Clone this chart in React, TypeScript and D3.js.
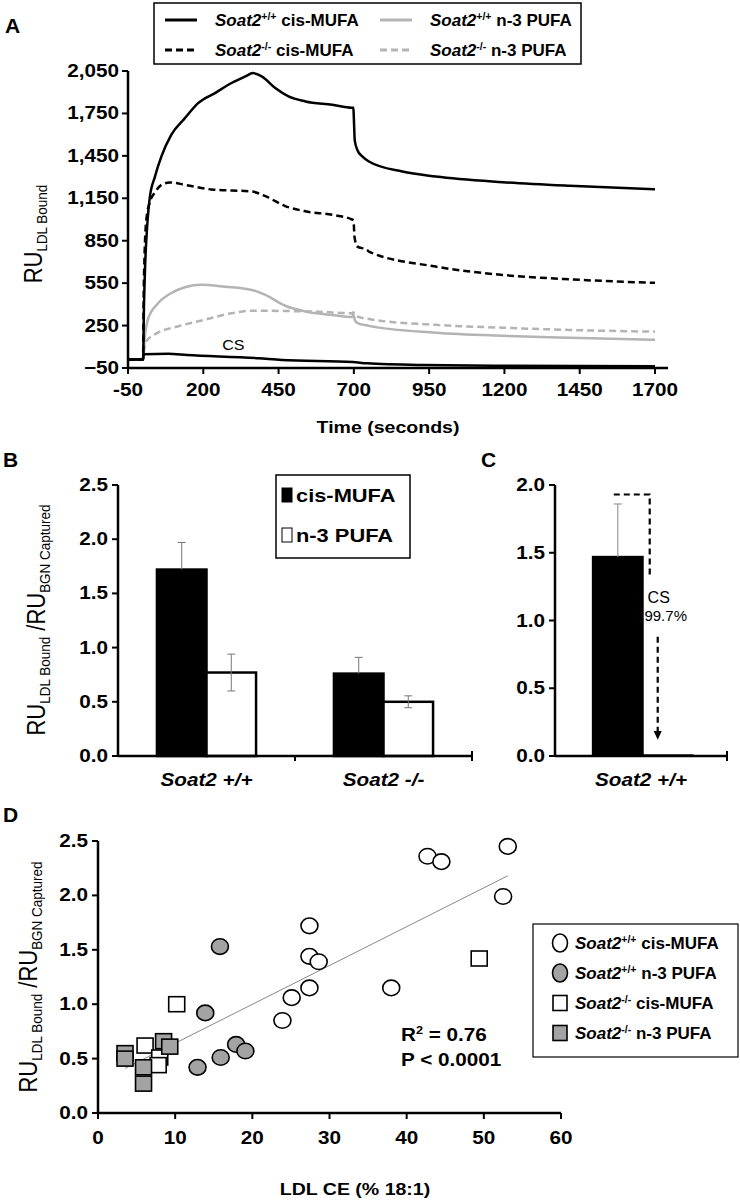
import React from 'react'
import * as d3 from 'd3'

const FONT = '"Liberation Sans", Arial, Helvetica, sans-serif'
const GREY_LINE = '#b4b4b4'
const GREY_FILL = '#a3a3a3'
const SX = 1.15 // the source figure's lettering is a little wider than Arial

// ---- Panel A: sensorgram (time s, RU)
const aTicksY = [-50, 250, 550, 850, 1150, 1450, 1750, 2050]
const aTicksX = [-50, 200, 450, 700, 950, 1200, 1450, 1700]

const wtMufa = [
  [-50, 10], [0, 10], [3, 380], [7, 680], [13, 930], [22, 1150], [39, 1300], [61, 1446], [94, 1600],
  [139, 1717], [183, 1823], [239, 1894], [294, 1965], [340, 2012], [365, 2035], [394, 2012],
  [439, 1929], [483, 1870], [539, 1835], [628, 1811], [694, 1790], [698, 1792], [703, 1560],
  [712, 1490], [728, 1446], [750, 1410], [861, 1339], [972, 1304], [1194, 1264], [1417, 1238], [1700, 1214],
]
const koMufa = [
  [-50, 10], [0, 10], [2, 450], [5, 750], [11, 1000], [22, 1120], [39, 1190], [61, 1245], [89, 1262],
  [139, 1245], [228, 1212], [361, 1198], [406, 1165], [472, 1095], [539, 1058], [628, 1033], [694, 1000],
  [699, 990], [702, 880], [711, 810], [744, 785], [750, 773], [972, 667], [1194, 608], [1417, 577], [1700, 552],
]
const wtPufa = [
  [-50, 10], [0, 10], [5, 150], [17, 300], [50, 408], [94, 480], [139, 521], [194, 538], [272, 525],
  [361, 502], [406, 467], [472, 390], [539, 350], [628, 325], [694, 310], [698, 328], [703, 290],
  [712, 268], [750, 248], [972, 200], [1194, 178], [1417, 164], [1700, 150],
]
const koPufa = [
  [-50, 10], [0, 10], [5, 100], [11, 140], [50, 200], [117, 245], [206, 292], [294, 337], [361, 355],
  [472, 353], [583, 348], [694, 337], [699, 345], [703, 322], [750, 296], [972, 255], [1194, 235],
  [1417, 219], [1700, 207],
]
const csLine = [
  [-50, 10], [0, 10], [2, 48], [83, 50], [146, 42], [383, 19], [460, 7], [697, -8], [743, -17],
  [933, -29], [1200, -34], [1700, -37],
]

// ---- Panel B: bars
const bGroups = ['Soat2 +/+', 'Soat2 -/-']
const bSeries = ['cis-MUFA', 'n-3 PUFA']
const bMeans = [[1.72, 0.77], [0.76, 0.50]]
const bErr = [[0.25, 0.17], [0.15, 0.055]]
const bTicks = [0, 0.5, 1.0, 1.5, 2.0, 2.5]

// ---- Panel C: bars
const cGroups = ['Soat2 +/+']
const cSeries = ['LDL', 'CS']
const cMeans = [1.47, 0.005]
const cErr = [0.39, 0]
const cTicks = [0, 0.5, 1.0, 1.5, 2.0]

// ---- Panel D: scatter (LDL CE % 18:1, RU ratio)
const dWtMufa = [
  [27.4, 1.72], [27.4, 1.44], [28.6, 1.39], [27.4, 1.15], [25.1, 1.06], [23.9, 0.85], [38.0, 1.15],
  [52.5, 1.99], [42.7, 2.36], [44.5, 2.31], [53.1, 2.45],
]
const dWtPufa = [[15.8, 1.53], [13.9, 0.92], [17.9, 0.63], [19.1, 0.57], [15.9, 0.51], [12.9, 0.42]]
const dKoMufa = [[49.4, 1.42], [10.2, 1.0], [6.1, 0.62], [8.0, 0.51], [7.8, 0.44]]
const dKoPufa = [[3.5, 0.55], [3.5, 0.50], [5.9, 0.42], [5.9, 0.27], [8.5, 0.66], [9.3, 0.61]]
const dFit = [[3.5, 0.41], [53.1, 2.18]]
const dTicksX = [0, 10, 20, 30, 40, 50, 60]
const dTicksY = [0, 0.5, 1.0, 1.5, 2.0, 2.5]

const fmt1 = d3.format('.1f')

function Soat({ sup, rest, size }: { sup: string; rest: string; size: number }) {
  return (
    <>
      <tspan fontStyle="italic">Soat2</tspan>
      <tspan fontSize={size * 0.62} dy={-size * 0.38}>{sup}</tspan>
      <tspan dy={size * 0.38}>{rest}</tspan>
    </>
  )
}

// widened text
function T({ x, y, anchor = 'start', size = 18, bold = true, sx = SX, children, rot = false }: any) {
  return (
    <text transform={`translate(${x},${y}) scale(${sx},1)${rot ? ' rotate(-90)' : ''}`} textAnchor={anchor}
      fontSize={size} fontWeight={bold ? 'bold' : 'normal'}>
      {children}
    </text>
  )
}

function RuTitle({ x, y, full }: { x: number; y: number; full: boolean }) {
  return (
    <T x={x} y={y} anchor="middle" size={22} bold={false} rot>
      <tspan>RU</tspan><tspan fontSize={13.5} dy={4}>LDL Bound</tspan>
      {full && <><tspan dy={-4}> /RU</tspan><tspan fontSize={13.5} dy={4}>BGN Captured</tspan></>}
    </T>
  )
}

export default function App() {
  // A
  const xA = d3.scaleLinear().domain([-50, 1700]).range([128, 655])
  const yA = d3.scaleLinear().domain([-50, 2050]).range([368, 71])
  const lineA = d3.line<number[]>().x(d => xA(d[0])).y(d => yA(d[1])).curve(d3.curveMonotoneX)
  const aSeries = [
    { data: koPufa, stroke: GREY_LINE, dash: '7,4' },
    { data: wtPufa, stroke: GREY_LINE, dash: null },
    { data: csLine, stroke: '#000', dash: null },
    { data: koMufa, stroke: '#000', dash: '7,4' },
    { data: wtMufa, stroke: '#000', dash: null },
  ]

  // B
  const yB = d3.scaleLinear().domain([0, 2.5]).range([756, 485])
  const xB = d3.scaleBand().domain(bGroups).range([118, 472])
  const bw = xB.bandwidth()
  const xB1 = d3.scaleBand().domain(bSeries).range([bw * 0.22, bw * 0.78])

  // C
  const yC = d3.scaleLinear().domain([0, 2.0]).range([756, 485])
  const xC = d3.scaleBand().domain(cGroups).range([555, 727])
  const cw = xC.bandwidth()
  const xC1 = d3.scaleBand().domain(cSeries).range([cw * 0.22, cw * 0.8])

  // D
  const xD = d3.scaleLinear().domain([0, 60]).range([98, 561])
  const yD = d3.scaleLinear().domain([0, 2.5]).range([1113, 841])

  const cBw = xC1.bandwidth()
  const cBarMid = xC1('LDL')! + xC('Soat2 +/+')! + cBw / 2
  const cRight = xC1('CS')! + xC('Soat2 +/+')!
  const bracketX = cRight + 7
  const arrowX = cRight + 15

  return (
    <svg width={740} height={1201} style={{ position: 'absolute', left: 0, top: 0, background: '#fff' }}
      fontFamily={FONT}>
      <rect width={740} height={1201} fill="#fff" />

      {/* ---------------- Panel A ---------------- */}
      <text x={5} y={33} fontSize={21} fontWeight="bold">A</text>
      <g>
        <rect x={154} y={3} width={427} height={61} fill="#fff" stroke="#000" strokeWidth={1.5} />
        {[
          { x: 165, y: 20, stroke: '#000', dash: null, sup: '+/+', rest: ' cis-MUFA' },
          { x: 165, y: 50, stroke: '#000', dash: '7,4', sup: '-/-', rest: '  cis-MUFA' },
          { x: 380, y: 20, stroke: GREY_LINE, dash: null, sup: '+/+', rest: ' n-3 PUFA' },
          { x: 380, y: 50, stroke: GREY_LINE, dash: '7,4', sup: '-/-', rest: ' n-3 PUFA' },
        ].map((l, i) => (
          <g key={i}>
            <line x1={l.x} x2={l.x + 32} y1={l.y} y2={l.y} stroke={l.stroke} strokeWidth={3}
              strokeDasharray={l.dash ?? undefined} />
            <text x={l.x + 50} y={l.y + 6} fontSize={17} fontWeight="bold">
              <Soat sup={l.sup} rest={l.rest} size={17} />
            </text>
          </g>
        ))}
      </g>
      {aSeries.map((s, i) => (
        <path key={i} d={lineA(s.data) ?? ''} fill="none" stroke={s.stroke} strokeWidth={2.5}
          strokeDasharray={s.dash ?? undefined} />
      ))}
      <T x={xA(300)} y={350} anchor="middle" size={14} bold={false}>CS</T>
      {/* axes */}
      <line x1={xA(-50)} x2={xA(-50)} y1={yA(2050)} y2={yA(-50)} stroke="#000" strokeWidth={2.5} />
      <line x1={xA(-50)} x2={668} y1={yA(-50)} y2={yA(-50)} stroke="#000" strokeWidth={2.5} />
      {aTicksY.map(t => (
        <g key={t}>
          <line x1={xA(-50) - 6} x2={xA(-50)} y1={yA(t)} y2={yA(t)} stroke="#000" strokeWidth={2} />
          <T x={xA(-50) - 9} y={yA(t) + 6} anchor="end">{d3.format(',')(t)}</T>
        </g>
      ))}
      {aTicksX.map(t => (
        <g key={t}>
          <line x1={xA(t)} x2={xA(t)} y1={yA(-50)} y2={yA(-50) + 6} stroke="#000" strokeWidth={2} />
          <T x={xA(t)} y={yA(-50) + 28} anchor="middle">{t}</T>
        </g>
      ))}
      <T x={388} y={433} anchor="middle" size={17}>Time (seconds)</T>
      <RuTitle x={42} y={234} full={false} />

      {/* ---------------- Panel B ---------------- */}
      <text x={3} y={467} fontSize={21} fontWeight="bold">B</text>
      <RuTitle x={45} y={620} full />
      {bGroups.map((g, gi) => (
        <g key={g} transform={`translate(${xB(g)},0)`}>
          {bSeries.map((s, si) => {
            const x = xB1(s)!
            const w = xB1.bandwidth()
            const v = bMeans[gi][si]
            const e = bErr[gi][si]
            const cx = x + w / 2
            const lo = si === 0 ? v : v - e
            return (
              <g key={s}>
                <rect x={x} y={yB(v)} width={w} height={yB(0) - yB(v)} fill={si === 0 ? '#000' : '#fff'}
                  stroke="#000" strokeWidth={2.5} />
                <line x1={cx} x2={cx} y1={yB(v + e)} y2={yB(lo)} stroke="#777" strokeWidth={1} />
                <line x1={cx - 4} x2={cx + 4} y1={yB(v + e)} y2={yB(v + e)} stroke="#777" strokeWidth={1} />
                {si === 1 && <line x1={cx - 4} x2={cx + 4} y1={yB(lo)} y2={yB(lo)} stroke="#777" strokeWidth={1} />}
              </g>
            )
          })}
          <T x={bw / 2} y={786} anchor="middle"><tspan fontStyle="italic">{g}</tspan></T>
        </g>
      ))}
      <line x1={118} x2={118} y1={yB(2.5)} y2={yB(0)} stroke="#000" strokeWidth={2.5} />
      <line x1={118} x2={472} y1={yB(0)} y2={yB(0)} stroke="#000" strokeWidth={2.5} />
      {xB.domain().slice(1).map(g => (
        <line key={g} x1={xB(g)} x2={xB(g)} y1={yB(0)} y2={yB(0) + 5} stroke="#000" strokeWidth={2} />
      ))}
      <line x1={472} x2={472} y1={yB(0) - 5} y2={yB(0) + 5} stroke="#000" strokeWidth={2} />
      {bTicks.map(t => (
        <g key={t}>
          <line x1={112} x2={118} y1={yB(t)} y2={yB(t)} stroke="#000" strokeWidth={2} />
          <T x={108} y={yB(t) + 6} anchor="end">{fmt1(t)}</T>
        </g>
      ))}
      {/* legend B */}
      <rect x={276} y={475} width={134} height={83} fill="#fff" stroke="#000" strokeWidth={1.5} />
      {bSeries.map((s, i) => (
        <g key={s}>
          <rect x={282} y={488 + i * 40} width={10} height={14} fill={i === 0 ? '#000' : '#fff'} stroke="#000" strokeWidth={1} />
          <T x={296} y={502 + i * 40} size={19}>{s}</T>
        </g>
      ))}

      {/* ---------------- Panel C ---------------- */}
      <text x={481} y={467} fontSize={21} fontWeight="bold">C</text>
      {cSeries.map((s, i) => {
        const x = xC1(s)! + xC('Soat2 +/+')!
        const w = xC1.bandwidth()
        const v = cMeans[i]
        return (
          <g key={s}>
            <rect x={x} y={yC(v)} width={w} height={Math.max(yC(0) - yC(v), 0)} fill="#000" stroke="#000" strokeWidth={2} />
            {cErr[i] > 0 && (
              <>
                <line x1={x + w / 2} x2={x + w / 2} y1={yC(v + cErr[i])} y2={yC(v)} stroke="#999" strokeWidth={1.2} />
                <line x1={x + w / 2 - 4} x2={x + w / 2 + 4} y1={yC(v + cErr[i])} y2={yC(v + cErr[i])} stroke="#999" strokeWidth={1.2} />
              </>
            )}
          </g>
        )
      })}
      <path d={`M${cBarMid - 4},${yC(1.93)} H${bracketX} V${yC(1.31)}`} fill="none" stroke="#000"
        strokeWidth={2.2} strokeDasharray="6,4" />
      <text x={bracketX + 9} y={603} textAnchor="middle" fontSize={16}>CS</text>
      <text x={bracketX + 16} y={621} textAnchor="middle" fontSize={15}>99.7%</text>
      <line x1={arrowX} x2={arrowX} y1={yC(0.88)} y2={yC(0.17)} stroke="#000" strokeWidth={2.2}
        strokeDasharray="6,4" />
      <path d={`M${arrowX - 4},${yC(0.17) - 2} L${arrowX + 4},${yC(0.17) - 2} L${arrowX},${yC(0.12)} Z`} fill="#000" />
      <line x1={555} x2={555} y1={yC(2.0)} y2={yC(0)} stroke="#000" strokeWidth={2.5} />
      <line x1={555} x2={727} y1={yC(0)} y2={yC(0)} stroke="#000" strokeWidth={2.5} />
      <line x1={727} x2={727} y1={yC(0) - 5} y2={yC(0) + 5} stroke="#000" strokeWidth={2} />
      {cTicks.map(t => (
        <g key={t}>
          <line x1={549} x2={555} y1={yC(t)} y2={yC(t)} stroke="#000" strokeWidth={2} />
          <T x={545} y={yC(t) + 6} anchor="end">{fmt1(t)}</T>
        </g>
      ))}
      <T x={xC('Soat2 +/+')! + cw / 2} y={786} anchor="middle"><tspan fontStyle="italic">Soat2 +/+</tspan></T>

      {/* ---------------- Panel D ---------------- */}
      <text x={3} y={822} fontSize={21} fontWeight="bold">D</text>
      <RuTitle x={37} y={977} full />
      <line x1={xD(dFit[0][0])} y1={yD(dFit[0][1])} x2={xD(dFit[1][0])} y2={yD(dFit[1][1])} stroke="#888" strokeWidth={1} />
      {dKoMufa.map((d, i) => (
        <rect key={'km' + i} x={xD(d[0]) - 8} y={yD(d[1]) - 7.5} width={16} height={15} fill="#fff" stroke="#000" strokeWidth={1.6} />
      ))}
      {dKoPufa.map((d, i) => (
        <rect key={'kp' + i} x={xD(d[0]) - 8} y={yD(d[1]) - 7.5} width={16} height={15} fill={GREY_FILL} stroke="#000" strokeWidth={1.6} />
      ))}
      {dWtPufa.map((d, i) => (
        <ellipse key={'wp' + i} cx={xD(d[0])} cy={yD(d[1])} rx={8.5} ry={7.8} fill={GREY_FILL} stroke="#000" strokeWidth={1.6} />
      ))}
      {dWtMufa.map((d, i) => (
        <ellipse key={'wm' + i} cx={xD(d[0])} cy={yD(d[1])} rx={8.5} ry={7.8} fill="#fff" stroke="#000" strokeWidth={1.6} />
      ))}
      <line x1={98} x2={98} y1={yD(2.5)} y2={yD(0)} stroke="#000" strokeWidth={2.5} />
      <line x1={98} x2={561} y1={yD(0)} y2={yD(0)} stroke="#000" strokeWidth={2.5} />
      {dTicksY.map(t => (
        <g key={t}>
          <line x1={92} x2={98} y1={yD(t)} y2={yD(t)} stroke="#000" strokeWidth={2} />
          <T x={88} y={yD(t) + 6} anchor="end">{fmt1(t)}</T>
        </g>
      ))}
      {dTicksX.map(t => (
        <g key={t}>
          <line x1={xD(t)} x2={xD(t)} y1={yD(0)} y2={yD(0) + 6} stroke="#000" strokeWidth={2} />
          <T x={xD(t)} y={yD(0) + 31} anchor="middle">{t}</T>
        </g>
      ))}
      <T x={355} y={1195} anchor="middle" size={17}>LDL CE (%  18:1)</T>
      <T x={401} y={1041}>R<tspan fontSize={11} dy={-7}>2</tspan><tspan dy={7}> = 0.76</tspan></T>
      <T x={401} y={1066}>P &lt; 0.0001</T>
      {/* legend D */}
      <rect x={533} y={924} width={205} height={133} fill="#fff" stroke="#000" strokeWidth={1.2} />
      {[
        { shape: 'c', fill: '#fff', sup: '+/+', rest: '  cis-MUFA' },
        { shape: 'c', fill: GREY_FILL, sup: '+/+', rest: '  n-3 PUFA' },
        { shape: 's', fill: '#fff', sup: '-/-', rest: ' cis-MUFA' },
        { shape: 's', fill: GREY_FILL, sup: '-/-', rest: ' n-3 PUFA' },
      ].map((l, i) => {
        const y = 943 + i * 30
        return (
          <g key={i}>
            {l.shape === 'c'
              ? <ellipse cx={560} cy={y} rx={7.5} ry={9} fill={l.fill} stroke="#000" strokeWidth={1.6} />
              : <rect x={553} y={y - 7.5} width={14} height={15} fill={l.fill} stroke="#000" strokeWidth={1.6} />}
            <text x={575} y={y + 6} fontSize={17} fontWeight="bold">
              <Soat sup={l.sup} rest={l.rest} size={17} />
            </text>
          </g>
        )
      })}
    </svg>
  )
}
